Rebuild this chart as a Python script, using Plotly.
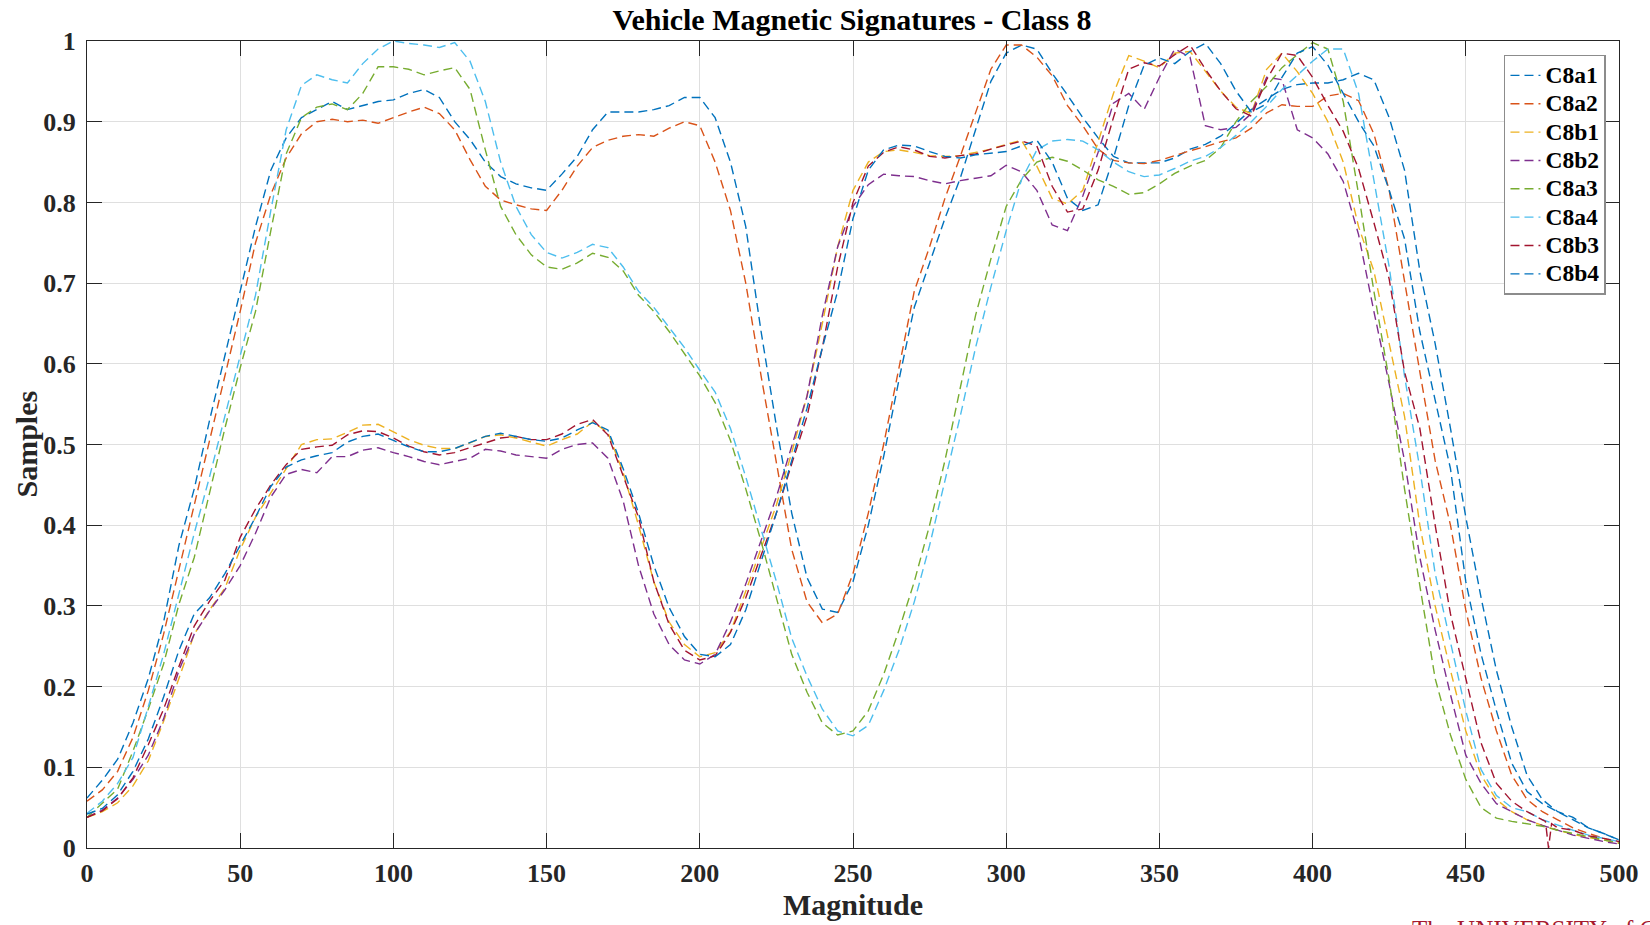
import plotly.graph_objects as go

# ---------------- data ----------------
MAGNITUDE = list(range(0, 501, 5))

C8a1 = [0.062, 0.084, 0.110, 0.155, 0.210, 0.280, 0.375, 0.445, 0.530, 0.610,
        0.690, 0.770, 0.840, 0.880, 0.905, 0.915, 0.925, 0.915, 0.920, 0.925,
        0.927, 0.935, 0.940, 0.930, 0.900, 0.878, 0.850, 0.832, 0.823, 0.818,
        0.815, 0.835, 0.857, 0.890, 0.912, 0.912, 0.912, 0.915, 0.920, 0.930,
        0.930, 0.905, 0.850, 0.770, 0.640, 0.523, 0.415, 0.335, 0.296, 0.292,
        0.330, 0.400, 0.485, 0.580, 0.670, 0.725, 0.780, 0.830, 0.890, 0.950,
        0.985, 0.995, 0.990, 0.960, 0.933, 0.905, 0.880, 0.857, 0.849, 0.849,
        0.849, 0.855, 0.866, 0.872, 0.882, 0.898, 0.915, 0.928, 0.940, 0.946,
        0.948, 0.948, 0.952, 0.960, 0.952, 0.905, 0.840, 0.715, 0.625, 0.520,
        0.410, 0.310, 0.220, 0.150, 0.090, 0.060, 0.045, 0.038, 0.025, 0.018,
        0.010]

C8a2 = [0.058, 0.072, 0.095, 0.137, 0.195, 0.265, 0.345, 0.425, 0.505, 0.585,
        0.665, 0.750, 0.810, 0.855, 0.885, 0.900, 0.903, 0.900, 0.902, 0.898,
        0.905, 0.912, 0.918, 0.910, 0.890, 0.853, 0.820, 0.803, 0.797, 0.792,
        0.790, 0.815, 0.845, 0.868, 0.877, 0.882, 0.884, 0.882, 0.892, 0.900,
        0.895, 0.850, 0.790, 0.700, 0.585, 0.475, 0.370, 0.305, 0.279, 0.290,
        0.340, 0.415, 0.500, 0.595, 0.690, 0.745, 0.805, 0.857, 0.912, 0.965,
        0.995, 0.995, 0.980, 0.957, 0.920, 0.895, 0.866, 0.852, 0.849, 0.848,
        0.852, 0.858, 0.864, 0.869, 0.875, 0.880, 0.892, 0.911, 0.921, 0.919,
        0.919, 0.932, 0.935, 0.926, 0.885, 0.815, 0.700, 0.590, 0.480, 0.400,
        0.295, 0.210, 0.145, 0.090, 0.060, 0.045, 0.035, 0.025, 0.018, 0.012,
        0.006]

C8b1 = [0.038, 0.045, 0.056, 0.077, 0.108, 0.157, 0.210, 0.265, 0.295, 0.322,
        0.370, 0.410, 0.440, 0.470, 0.500, 0.506, 0.507, 0.515, 0.524, 0.525,
        0.515, 0.506, 0.499, 0.495, 0.495, 0.502, 0.510, 0.512, 0.508, 0.503,
        0.498, 0.506, 0.513, 0.528, 0.515, 0.465, 0.400, 0.330, 0.280, 0.252,
        0.237, 0.242, 0.268, 0.318, 0.372, 0.425, 0.490, 0.560, 0.650, 0.745,
        0.815, 0.850, 0.863, 0.865, 0.862, 0.858, 0.857, 0.858, 0.862, 0.866,
        0.872, 0.877, 0.845, 0.805, 0.798, 0.815, 0.875, 0.935, 0.982, 0.975,
        0.967, 0.985, 0.987, 0.962, 0.938, 0.918, 0.910, 0.965, 0.985, 0.962,
        0.935, 0.900, 0.850, 0.770, 0.715, 0.625, 0.535, 0.400, 0.300, 0.220,
        0.145, 0.090, 0.060, 0.045, 0.035, 0.028, 0.022, 0.017, 0.013, 0.010,
        0.006]

C8b2 = [0.038, 0.047, 0.062, 0.085, 0.115, 0.160, 0.220, 0.265, 0.294, 0.320,
        0.350, 0.390, 0.435, 0.463, 0.469, 0.465, 0.485, 0.485, 0.493, 0.496,
        0.490, 0.485, 0.479, 0.475, 0.479, 0.483, 0.494, 0.492, 0.487, 0.485,
        0.483, 0.494, 0.500, 0.502, 0.483, 0.430, 0.350, 0.290, 0.252, 0.233,
        0.228, 0.240, 0.280, 0.327, 0.380, 0.435, 0.498, 0.560, 0.660, 0.745,
        0.795, 0.822, 0.835, 0.833, 0.832, 0.827, 0.823, 0.827, 0.830, 0.833,
        0.846, 0.838, 0.815, 0.772, 0.765, 0.808, 0.862, 0.923, 0.935, 0.915,
        0.955, 0.990, 0.980, 0.895, 0.890, 0.893, 0.910, 0.955, 0.952, 0.890,
        0.880, 0.860, 0.826, 0.760, 0.665, 0.575, 0.480, 0.360, 0.270, 0.190,
        0.115, 0.080, 0.055, 0.045, 0.035, 0.028, 0.022, 0.016, 0.012, 0.008,
        0.005]

C8a3 = [0.038, 0.055, 0.073, 0.120, 0.172, 0.228, 0.302, 0.360, 0.440, 0.520,
        0.595, 0.665, 0.765, 0.860, 0.905, 0.918, 0.922, 0.915, 0.935, 0.968,
        0.968, 0.965, 0.958, 0.963, 0.967, 0.940, 0.865, 0.795, 0.760, 0.735,
        0.720, 0.717, 0.725, 0.737, 0.732, 0.715, 0.685, 0.665, 0.640, 0.612,
        0.585, 0.552, 0.505, 0.445, 0.380, 0.310, 0.240, 0.193, 0.155, 0.140,
        0.145, 0.170, 0.215, 0.270, 0.330, 0.400, 0.480, 0.570, 0.660, 0.730,
        0.795, 0.828, 0.850, 0.856, 0.851, 0.840, 0.828, 0.820, 0.810, 0.812,
        0.823, 0.836, 0.845, 0.852, 0.868, 0.900, 0.925, 0.944, 0.967, 0.983,
        0.998, 0.990, 0.925, 0.810, 0.690, 0.580, 0.445, 0.325, 0.210, 0.140,
        0.085, 0.050, 0.037, 0.033, 0.030, 0.027, 0.022, 0.018, 0.014, 0.010,
        0.006]

C8a4 = [0.043, 0.058, 0.080, 0.112, 0.175, 0.240, 0.315, 0.390, 0.460, 0.535,
        0.610, 0.685, 0.790, 0.890, 0.945, 0.958, 0.952, 0.948, 0.972, 0.990,
        1.000, 0.997, 0.995, 0.992, 0.998, 0.975, 0.925, 0.850, 0.795, 0.760,
        0.738, 0.731, 0.738, 0.748, 0.744, 0.720, 0.690, 0.670, 0.645, 0.620,
        0.592, 0.565, 0.520, 0.460, 0.395, 0.330, 0.260, 0.213, 0.172, 0.145,
        0.139, 0.152, 0.195, 0.245, 0.305, 0.375, 0.455, 0.535, 0.620, 0.695,
        0.765, 0.828, 0.865, 0.876, 0.878, 0.876, 0.865, 0.850, 0.838, 0.832,
        0.834, 0.842, 0.851, 0.857, 0.868, 0.883, 0.900, 0.919, 0.940, 0.957,
        0.975, 0.990, 0.990, 0.935, 0.830, 0.720, 0.585, 0.470, 0.340, 0.255,
        0.170, 0.097, 0.065, 0.050, 0.045, 0.035, 0.028, 0.022, 0.016, 0.012,
        0.008]

C8b3_X = MAGNITUDE[:96] + [476, 477, 478] + MAGNITUDE[96:]
C8b3 = [0.038, 0.046, 0.061, 0.087, 0.128, 0.172, 0.225, 0.275, 0.306, 0.332,
        0.385, 0.420, 0.450, 0.475, 0.494, 0.497, 0.499, 0.512, 0.517, 0.516,
        0.508, 0.498, 0.491, 0.487, 0.490, 0.496, 0.502, 0.508, 0.510, 0.506,
        0.506, 0.513, 0.525, 0.531, 0.512, 0.462, 0.410, 0.330, 0.277, 0.245,
        0.233, 0.238, 0.267, 0.310, 0.362, 0.415, 0.476, 0.535, 0.620, 0.720,
        0.800, 0.845, 0.862, 0.869, 0.865, 0.857, 0.855, 0.858, 0.860, 0.866,
        0.871, 0.876, 0.870, 0.820, 0.788, 0.792, 0.840, 0.905, 0.965, 0.973,
        0.969, 0.983, 0.995, 0.965, 0.938, 0.916, 0.907, 0.952, 0.985, 0.982,
        0.955, 0.920, 0.888, 0.842, 0.775, 0.705, 0.590, 0.520, 0.400, 0.290,
        0.210, 0.130, 0.080, 0.058, 0.045, 0.035,
        0.033, 0.000, 0.030,
        0.025, 0.022, 0.015, 0.012,
        0.008]

C8b4 = [0.042, 0.049, 0.066, 0.095, 0.135, 0.187, 0.245, 0.290, 0.310, 0.340,
        0.375, 0.410, 0.448, 0.472, 0.481, 0.486, 0.490, 0.503, 0.510, 0.513,
        0.505, 0.497, 0.491, 0.491, 0.495, 0.503, 0.510, 0.514, 0.510, 0.506,
        0.504, 0.508, 0.518, 0.527, 0.518, 0.470, 0.415, 0.350, 0.298, 0.262,
        0.240, 0.237, 0.252, 0.295, 0.355, 0.415, 0.480, 0.545, 0.620, 0.690,
        0.780, 0.840, 0.865, 0.871, 0.870, 0.863, 0.857, 0.855, 0.859, 0.861,
        0.863, 0.870, 0.877, 0.850, 0.805, 0.790, 0.797, 0.855, 0.920, 0.970,
        0.979, 0.972, 0.987, 0.997, 0.972, 0.938, 0.912, 0.922, 0.955, 0.985,
        0.993, 0.970, 0.935, 0.900, 0.870, 0.815, 0.755, 0.640, 0.555, 0.470,
        0.330, 0.240, 0.170, 0.105, 0.070, 0.055, 0.045, 0.035, 0.025, 0.018,
        0.010]

SERIES_NAMES = ["C8a1", "C8a2", "C8b1", "C8b2", "C8a3", "C8a4", "C8b3", "C8b4"]
SERIES_X = [MAGNITUDE, MAGNITUDE, MAGNITUDE, MAGNITUDE, MAGNITUDE, MAGNITUDE, C8b3_X, MAGNITUDE]
SERIES_Y = [C8a1, C8a2, C8b1, C8b2, C8a3, C8a4, C8b3, C8b4]
COLORS = ["#0072BD", "#D95319", "#EDB120", "#7E2F8E", "#77AC30", "#4DBEEE", "#A2142F", "#0072BD"]

X_TICKS = list(range(0, 501, 50))
Y_TICKS = [0, 0.1, 0.2, 0.3, 0.4, 0.5, 0.6, 0.7, 0.8, 0.9, 1]
Y_TICK_TEXT = ["0", "0.1", "0.2", "0.3", "0.4", "0.5", "0.6", "0.7", "0.8", "0.9", "1"]

TITLE = "Vehicle Magnetic Signatures - Class 8"
X_LABEL = "Magnitude"
Y_LABEL = "Samples"
WATERMARK = "The UNIVERSITY of C"

# ---------------- figure ----------------
SERIF = "Liberation Serif, Times New Roman, serif"
AX = "#262626"
GRID = "#dfdfdf"
PLOT_L, PLOT_R, PLOT_T, PLOT_B = 87, 1619, 41, 848

fig = go.Figure()
for name, xs, ys, col in zip(SERIES_NAMES, SERIES_X, SERIES_Y, COLORS):
    fig.add_trace(go.Scatter(
        x=xs, y=ys, mode="lines",
        name='<span style="font-size:23.5px">' + name + '</span>',
        line=dict(color=col, width=1.4, dash="9px,5px"),
    ))

axis_common = dict(
    automargin=False,
    showline=True, linecolor=AX, linewidth=1.3, mirror="ticks",
    ticks="inside", ticklen=15, tickwidth=1, tickcolor=AX,
    showgrid=True, gridcolor=GRID, gridwidth=1, zeroline=False,
    tickfont=dict(family=SERIF, size=26, color=AX, weight="bold"),
)

fig.update_layout(
    width=1650, height=925,
    margin=dict(l=PLOT_L, r=1650 - PLOT_R, t=PLOT_T, b=925 - PLOT_B, pad=0),
    paper_bgcolor="white", plot_bgcolor="white",
    title=dict(text=TITLE, x=0.5164, xanchor="center", y=0.979, yanchor="middle",
               font=dict(family=SERIF, size=30, color="#000000", weight="bold")),
    xaxis=dict(range=[0, 500], tickvals=X_TICKS, ticklabelstandoff=2,
               title=dict(text=X_LABEL, standoff=6,
                          font=dict(family=SERIF, size=30, color=AX, weight="bold")),
               **axis_common),
    yaxis=dict(range=[0, 1], tickvals=Y_TICKS, ticktext=Y_TICK_TEXT, ticklabelstandoff=5,
               **axis_common),
    legend=dict(x=0.9915, xanchor="right", y=0.983, yanchor="top",
                bgcolor="white", bordercolor="#8c8c8c", borderwidth=1.5,
                font=dict(family=SERIF, size=19.5, color="#000000", weight="bold"),
                itemwidth=30, tracegroupgap=0),
    showlegend=True,
)

# y-axis label
fig.add_annotation(
    text=Y_LABEL, xref="paper", yref="paper",
    x=(26 - PLOT_L) / (PLOT_R - PLOT_L), xanchor="center",
    y=0.5, yanchor="middle", textangle=-90, showarrow=False,
    font=dict(family=SERIF, size=30, color=AX, weight="bold"),
)

# watermark, cut off by the bottom edge as in the source image
fig.add_annotation(
    text=WATERMARK, xref="paper", yref="paper",
    x=(1410 - PLOT_L) / (PLOT_R - PLOT_L), xanchor="left",
    y=(PLOT_B - 914) / (PLOT_B - PLOT_T), yanchor="top",
    showarrow=False,
    font=dict(family=SERIF, size=25, color="#a6192e"),
)

fig.write_html("out.html", post_script="document.body.style.margin='0';")
